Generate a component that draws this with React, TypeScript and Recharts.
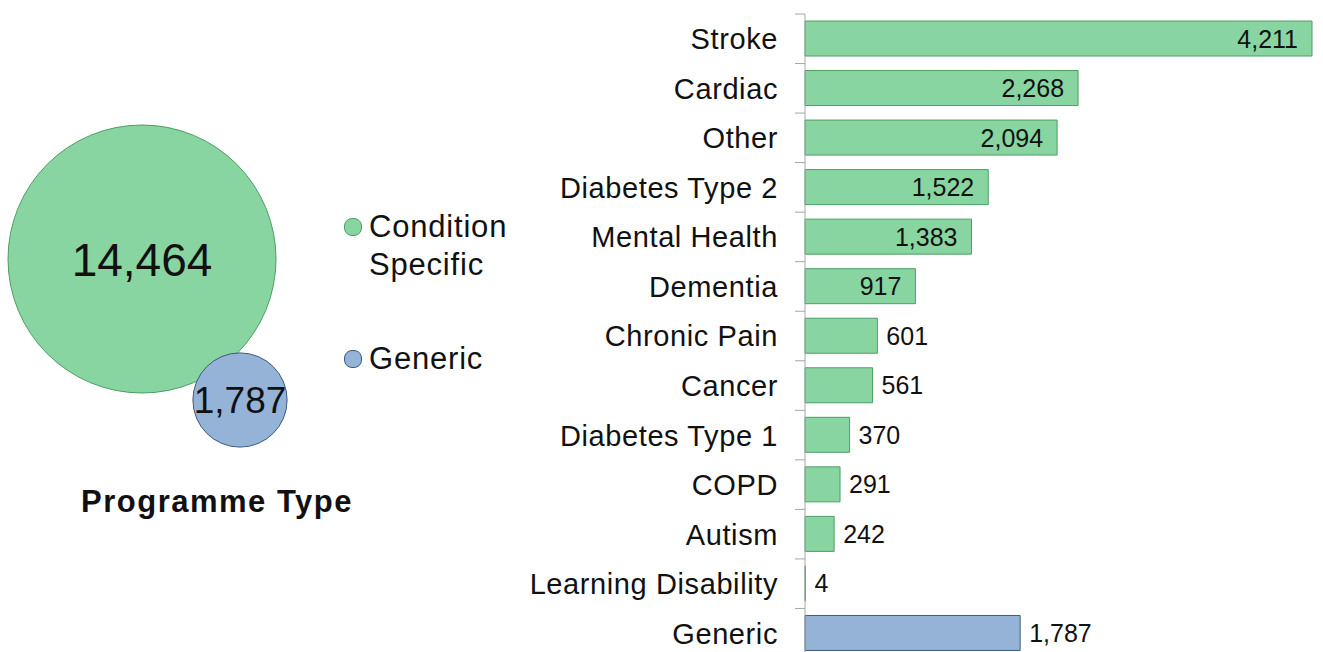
import React from "react"
import { BarChart, Bar, XAxis, YAxis, Cell, LabelList, ScatterChart, Scatter, ZAxis } from "recharts"

const categories = [
  "Stroke",
  "Cardiac",
  "Other",
  "Diabetes Type 2",
  "Mental Health",
  "Dementia",
  "Chronic Pain",
  "Cancer",
  "Diabetes Type 1",
  "COPD",
  "Autism",
  "Learning Disability",
  "Generic",
]
const counts = [4211, 2268, 2094, 1522, 1383, 917, 601, 561, 370, 291, 242, 4, 1787]

const programmeTypes = ["Condition Specific", "Generic"]
const programmeTotals = [14464, 1787]

const GREEN = "#88d5a1"
const GREEN_EDGE = "#4e9e64"
const BLUE = "#95b3d7"
const BLUE_EDGE = "#3c5a82"
const FONT = "'Liberation Sans', Arial, sans-serif"

// bubble layout (packed), not data
const bubbleSpots = [
  { x: 142, y: 259 },
  { x: 240, y: 400 },
]

const BAR_W = 1323
const BAR_H = 658
const BAR_TOP = 14
const AXIS_X = 805
const BAND = (BAR_H - BAR_TOP) / categories.length

const barRows = categories.map((name, i) => ({ name, value: counts[i] }))

const fmt = (v: number) => v.toLocaleString("en-US")

const CategoryTick = (props: any) => {
  const { x, y, payload } = props
  return (
    <g>
      <line x1={AXIS_X - 10} x2={AXIS_X} y1={y - BAND / 2} y2={y - BAND / 2} stroke="#a6a6a6" />
      <text x={x} y={y} dy="0.36em" textAnchor="end" fontSize={29} letterSpacing={0.6} fontFamily={FONT} fill="#111">
        {payload.value}
      </text>
    </g>
  )
}

const ValueLabel = (props: any) => {
  const { x, y, width, height, value, index } = props
  const inside = categories[index] !== "Generic" && value >= 900
  return (
    <text
      x={inside ? x + width - 14 : x + width + 9}
      y={y + height / 2}
      dy="0.36em"
      textAnchor={inside ? "end" : "start"}
      fontSize={25}
      fontFamily={FONT}
      fill="#111"
    >
      {fmt(value)}
    </text>
  )
}

const Bubble = (props: any) => {
  const { cx, cy, size, width, fill, stroke, payload } = props
  const r = size ? Math.sqrt(size / Math.PI) : width / 2
  const fs = Math.round(32 + r * 0.105)
  return (
    <g>
      <circle cx={cx} cy={cy} r={r} fill={fill} stroke={stroke} strokeWidth={1} />
      <text x={cx} y={cy} dy="0.36em" textAnchor="middle" fontSize={fs} fontFamily={FONT} fill="#111">
        {fmt(payload.z)}
      </text>
    </g>
  )
}

const bubbleColors = [
  { fill: GREEN, stroke: GREEN_EDGE },
  { fill: BLUE, stroke: BLUE_EDGE },
]

const BubbleLegend = () => (
  <div
    style={{
      position: "absolute",
      left: 344,
      top: 208,
      fontFamily: FONT,
      fontSize: 31,
      letterSpacing: 0.8,
      lineHeight: "38px",
      color: "#111",
    }}
  >
    {programmeTypes.map((name, i) => (
      <div key={name} style={{ display: "flex", alignItems: "flex-start", marginBottom: 56 }}>
        <span
          style={{
            display: "inline-block",
            flex: "none",
            width: 16,
            height: 16,
            borderRadius: 8,
            background: bubbleColors[i].fill,
            border: `1px solid ${bubbleColors[i].stroke}`,
            marginTop: 10,
            marginRight: 7,
          }}
        />
        <span style={{ width: 160 }}>{name}</span>
      </div>
    ))}
  </div>
)

const bubbleSeries = programmeTypes.map((name, i) => ({
  name,
  data: [{ x: bubbleSpots[i].x, y: bubbleSpots[i].y, z: programmeTotals[i] }],
}))

export default function App() {
  return (
    <div style={{ position: "absolute", left: 0, top: 0, width: 1323, height: 652, overflow: "hidden", background: "#fff" }}>
      <div style={{ position: "absolute", left: 0, top: 0 }}>
        <ScatterChart width={330} height={470} margin={{ top: 0, right: 0, left: 0, bottom: 0 }}>
          <XAxis type="number" dataKey="x" domain={[0, 330]} hide />
          <YAxis type="number" dataKey="y" domain={[0, 470]} reversed hide />
          <ZAxis type="number" dataKey="z" domain={[0, programmeTotals[0]]} range={[0, Math.PI * 134 * 134]} />
          {bubbleSeries.map((s, i) => (
            <Scatter
              key={s.name}
              name={s.name}
              data={s.data}
              fill={bubbleColors[i].fill}
              stroke={bubbleColors[i].stroke}
              shape={<Bubble />}
              isAnimationActive={false}
            />
          ))}
        </ScatterChart>
      </div>
      <BubbleLegend />
      <div
        style={{
          position: "absolute",
          left: 0,
          width: 434,
          top: 484,
          textAlign: "center",
          fontFamily: FONT,
          fontWeight: "bold",
          fontSize: 31,
          letterSpacing: 1.5,
          color: "#111",
        }}
      >
        Programme Type
      </div>
      <div style={{ position: "absolute", left: 0, top: 0 }}>
        <BarChart
          width={BAR_W}
          height={BAR_H}
          data={barRows}
          layout="vertical"
          margin={{ top: BAR_TOP, right: 11, left: 0, bottom: 0 }}
          barSize={35}
        >
          <XAxis type="number" domain={[0, counts[0]]} hide />
          <YAxis
            type="category"
            dataKey="name"
            width={AXIS_X}
            interval={0}
            tickSize={0}
            tickMargin={27}
            tickLine={false}
            axisLine={{ stroke: "#a6a6a6" }}
            tick={<CategoryTick />}
          />
          <Bar dataKey="value" isAnimationActive={false}>
            {barRows.map((r, i) => (
              <Cell
                key={i}
                fill={r.name === "Generic" ? BLUE : GREEN}
                stroke={r.name === "Generic" ? BLUE_EDGE : GREEN_EDGE}
              />
            ))}
            <LabelList dataKey="value" content={<ValueLabel />} />
          </Bar>
        </BarChart>
      </div>
    </div>
  )
}
